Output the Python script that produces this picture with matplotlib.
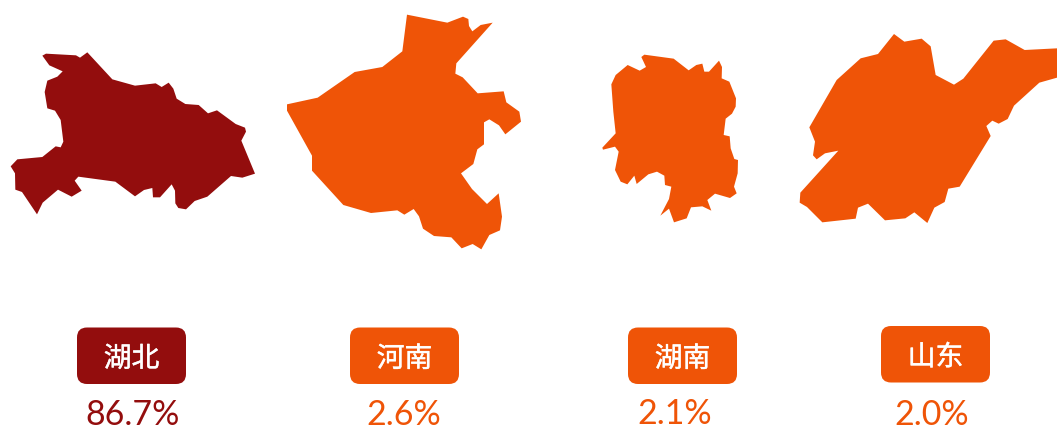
import matplotlib
matplotlib.use("Agg")
import matplotlib.pyplot as plt
import matplotlib.patheffects as pe
from matplotlib.patches import Polygon, FancyBboxPatch

plt.rcParams['font.family'] = ['Noto Sans CJK SC', 'DejaVu Sans']

provinces = ["湖北", "河南", "湖南", "山东"]
shares = ["86.7%", "2.6%", "2.1%", "2.0%"]

# outlines, 3 units = 1 pixel
hubei = [(127,47),(138,41),(228,46),(240,53),(262,37),(337,118),(405,137),(467,130),(485,141),(506,128),
         (520,146),(530,176),(556,192),(596,195),(624,220),(651,211),(707,252),(735,263),(738,275),(724,302),
         (765,401),(727,413),(693,408),(622,470),(584,483),(558,508),(535,504),(526,490),(525,452),(515,433),
         (480,472),(459,472),(457,444),(432,450),(405,469),(346,425),(235,410),(224,422),(245,452),(215,470),
         (174,449),(128,488),(111,523),(66,456),(46,449),(45,400),(32,379),(52,358),(127,351),(167,319),
         (182,322),(190,305),(182,240),(165,212),(142,205),(134,156),(142,122),(172,110),(188,94),(148,76)]
henan = [(381,29),(502,53),(549,35),(565,42),(567,63),(577,79),(602,60),(638,53),(529,175),(526,206),
         (548,217),(593,265),(671,259),(679,292),(718,320),(723,350),(676,388),(657,361),(628,343),(612,352),
         (612,418),(592,433),(580,477),(543,505),(576,552),(621,597),(656,565),(666,635),(660,676),(628,690),
         (604,733),(578,717),(545,730),(514,697),(462,693),(429,671),(417,634),(401,612),(373,629),(352,616),
         (273,624),(190,600),(96,497),(96,452),(21,317),(21,298),(113,278),(224,201),(307,186),(367,139)]
hunan = [(139,36),(148,29),(236,41),(281,76),(304,60),(322,56),(328,80),(342,80),(372,47),(381,66),
         (380,100),(403,110),(423,160),(422,185),(411,206),(392,221),(386,270),(404,274),(407,310),(418,342),
         (429,345),(428,385),(417,425),(425,445),(405,459),(360,446),(337,465),(349,497),(322,484),(288,487),
         (275,520),(237,532),(222,491),(196,512),(222,462),(229,425),(210,420),(208,392),(186,380),(160,388),
         (125,417),(118,392),(97,418),(77,410),(60,375),(71,320),(60,305),(24,314),(22,308),(62,265),
         (55,200),(49,118),(62,90),(98,60),(134,77),(153,66)]
shandong = [(297,27),(328,50),(380,41),(407,64),(422,150),(477,179),(505,161),(596,47),(632,43),(689,75),
            (786,70),(786,158),(733,173),(657,242),(638,282),(611,296),(592,287),(574,303),(587,333),(494,485),
            (460,491),(449,531),(418,548),(397,594),(358,562),(331,580),(270,586),(219,536),(189,548),(182,581),
            (82,592),(36,546),(14,533),(16,503),(130,377),(90,385),(65,403),(54,391),(60,350),(43,307),
            (125,165),(197,100),(249,87)]
outlines = [hubei, henan, hunan, shandong]

dark_red = "#930D0D"
orange = "#EF5407"
colors = [dark_red, orange, orange, orange]

map_offset = [(0, 40), (280, 5), (595, 45), (795, 25)]
box_left = [77, 350, 628, 881]
box_top = [327.5, 327.5, 327.5, 326]
share_x = [133, 404, 675, 932]
share_base = [425, 425, 424, 425]
box_w = 109
box_h = 56.5
rad = 10

fig = plt.figure(figsize=(10.57, 4.29), dpi=100)
ax = fig.add_axes([0, 0, 1, 1])
ax.set_xlim(0, 1057)
ax.set_ylim(429, 0)
ax.axis("off")

for i in range(len(provinces)):
    ox, oy = map_offset[i]
    pts = [(ox + x / 3, oy + y / 3) for x, y in outlines[i]]
    ax.add_patch(Polygon(pts, closed=True, facecolor=colors[i], edgecolor="none"))

    ax.add_patch(FancyBboxPatch((box_left[i] + rad, box_top[i] + rad), box_w - 2 * rad, box_h - 2 * rad,
                                boxstyle="round,pad=%d,rounding_size=%d" % (rad, rad),
                                facecolor=colors[i], edgecolor="none"))
    t = ax.text(box_left[i] + box_w / 2, box_top[i] + box_h / 2 + 3, provinces[i], color="white",
                fontsize=20, ha="center", va="center")
    t.set_path_effects([pe.withStroke(linewidth=0.3, foreground="white")])
    ax.text(share_x[i], share_base[i], shares[i], color=colors[i], fontsize=24.5,
            ha="center", va="baseline", family="Lato")

plt.savefig("out.png", dpi=100)
